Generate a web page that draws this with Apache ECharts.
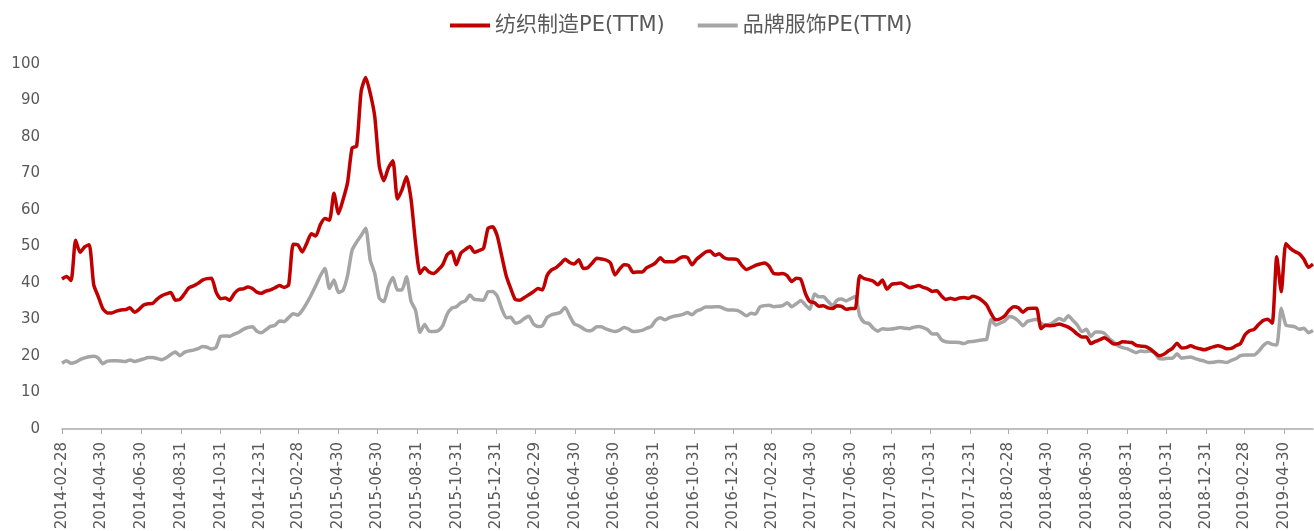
<!DOCTYPE html>
<html>
<head>
<meta charset="utf-8">
<script src="https://cdn.jsdelivr.net/npm/echarts@6/dist/echarts.min.js"></script>
<style>
    html, body { margin: 0; padding: 0; background: #fff; }
    #chart { width: 1314px; height: 531px; }
</style>
</head>
<body>
<div id="chart"></div>
<script>
// weekly readings (Fridays), first one on 2014-02-28
var startDate = "2014-02-28";
var seriesNames = ["纺织制造PE(TTM)", "品牌服饰PE(TTM)"];

var textileVals = [
    41.1, 41.8, 40.7, 51.7, 48.4, 49.9, 50.5, 39.5, 36.3, 33.0,
    31.8, 31.8, 32.3, 32.6, 32.7, 33.2, 32.0, 32.8, 34.0, 34.3,
    34.4, 35.6, 36.5, 37.0, 37.4, 35.3, 35.5, 37.0, 38.7, 39.2,
    39.9, 40.8, 41.2, 41.3, 37.5, 35.7, 35.9, 35.3, 37.1, 38.2,
    38.4, 38.9, 38.5, 37.5, 37.2, 37.8, 38.1, 38.7, 39.3, 38.8,
    39.5, 50.6, 50.5, 48.5, 50.9, 53.5, 52.9, 56.0, 57.7, 57.2,
    64.6, 59.0, 62.8, 67.5, 77.0, 77.5, 92.5, 96.3, 92.0, 85.6,
    72.0, 68.0, 71.5, 73.5, 63.0, 65.5, 69.1, 63.0, 51.0, 42.6,
    44.2, 43.0, 42.6, 43.6, 45.0, 47.8, 48.6, 45.0, 48.2, 49.2,
    50.0, 48.4, 48.9, 49.5, 55.0, 55.4, 53.0, 47.5, 42.0, 38.5,
    35.5, 35.3, 36.0, 36.8, 37.6, 38.5, 38.1, 42.0, 43.6, 44.2,
    45.3, 46.5, 45.6, 45.2, 46.4, 44.0, 44.2, 45.5, 46.8, 46.6,
    46.3, 45.5, 42.2, 43.8, 45.0, 44.8, 42.9, 43.0, 43.0, 44.2,
    44.8, 45.6, 46.9, 45.8, 45.8, 45.8, 46.6, 47.2, 47.0, 45.0,
    46.5, 47.5, 48.5, 48.8, 47.6, 48.0, 47.0, 46.6, 46.6, 46.4,
    44.8, 43.7, 44.2, 44.8, 45.2, 45.5, 44.6, 42.6, 42.5, 42.6,
    42.0, 40.4, 41.3, 41.0, 37.2, 34.9, 34.6, 33.6, 33.8, 33.2,
    33.0, 33.8, 33.6, 32.8, 33.0, 33.0, 42.0, 41.2, 40.9, 40.5,
    39.5, 40.8, 38.3, 39.6, 39.8, 40.0, 39.4, 38.7, 39.0, 39.3,
    38.8, 38.4, 37.7, 37.9, 36.5, 35.5, 35.8, 35.5, 35.9, 36.0,
    35.8, 36.4, 36.0, 35.2, 34.0, 31.6, 29.9, 30.2, 31.0, 32.6,
    33.5, 33.2, 32.0, 33.0, 33.1, 33.1, 27.5, 28.4, 28.3, 28.4,
    28.8, 28.4, 27.9, 27.1, 26.0, 25.2, 25.2, 23.4, 24.0, 24.5,
    25.0, 24.2, 23.3, 23.4, 23.9, 23.8, 23.7, 22.9, 22.7, 22.6,
    22.0, 21.0, 20.1, 20.4, 21.3, 22.1, 23.5, 22.2, 22.3, 22.8,
    22.3, 22.0, 21.7, 22.1, 22.5, 22.8, 22.5, 22.0, 22.1, 22.8,
    23.4, 25.8, 26.9, 27.3, 28.6, 29.7, 30.1, 29.0, 47.2, 37.6,
    50.8, 49.5, 48.6, 48.0, 46.5, 44.3, 45.2
];

var apparelVals = [
    18.0, 18.7, 18.0, 18.3, 19.0, 19.5, 19.8, 19.9, 19.4, 17.9,
    18.6, 18.7, 18.7, 18.6, 18.5, 18.9, 18.5, 18.8, 19.2, 19.6,
    19.6, 19.3, 19.0, 19.5, 20.4, 21.1, 20.1, 21.0, 21.4, 21.6,
    22.0, 22.6, 22.4, 21.9, 22.4, 25.4, 25.5, 25.4, 26.0, 26.5,
    27.3, 27.8, 28.0, 26.8, 26.4, 27.2, 28.1, 28.4, 29.6, 29.4,
    30.5, 31.6, 31.2, 32.5, 34.5, 36.8, 39.3, 42.0, 44.0, 38.5,
    40.8, 37.4, 38.0, 42.0, 49.0, 51.2, 53.0, 55.0, 46.3, 42.6,
    35.8, 34.9, 39.0, 41.5, 38.1, 38.1, 41.7, 35.0, 32.5, 26.5,
    28.6, 26.8, 26.7, 26.9, 28.3, 31.5, 33.1, 33.5, 34.6, 35.1,
    36.7, 35.5, 35.4, 35.3, 37.6, 37.7, 36.5, 33.0, 30.5, 30.6,
    29.0, 29.3, 30.3, 30.9, 28.8, 28.1, 28.3, 30.5, 31.3, 31.6,
    32.0, 33.3, 31.0, 28.8, 28.3, 27.5, 26.9, 27.1, 28.0, 28.0,
    27.4, 27.0, 26.7, 27.1, 27.8, 27.4, 26.7, 26.8, 27.0, 27.6,
    28.1, 29.8, 30.5, 29.9, 30.5, 30.9, 31.1, 31.4, 31.9, 31.3,
    32.3, 32.8, 33.4, 33.4, 33.5, 33.5, 33.0, 32.6, 32.6, 32.5,
    31.8, 31.0, 31.7, 31.5, 33.5, 33.8, 33.9, 33.5, 33.6, 33.8,
    34.6, 33.5, 34.3, 35.2, 34.0, 32.8, 37.0, 36.2, 36.2, 35.0,
    33.8, 35.3, 35.6, 35.1, 35.7, 36.3, 31.0, 29.2, 28.9, 27.6,
    26.8, 27.5, 27.3, 27.4, 27.6, 27.8, 27.6, 27.5, 27.9, 28.1,
    27.8, 27.2, 26.0, 26.1, 24.5, 23.9, 23.8, 23.8, 23.7, 23.4,
    23.9, 24.0, 24.2, 24.4, 24.6, 30.0, 28.5, 29.0, 29.6, 30.8,
    30.5, 29.6, 28.3, 29.5, 29.8, 30.1, 29.0, 28.5, 28.7, 29.5,
    30.3, 29.7, 31.0, 29.8, 28.5, 26.7, 27.3, 25.4, 26.6, 26.6,
    26.2, 24.8, 23.8, 22.8, 22.3, 22.0, 21.4, 20.9, 21.4, 21.2,
    21.4, 20.9, 19.3, 19.2, 19.4, 19.4, 20.6, 19.4, 19.6, 19.7,
    19.3, 18.9, 18.6, 18.2, 18.3, 18.5, 18.4, 18.2, 18.8, 19.3,
    20.1, 20.3, 20.3, 20.3, 21.3, 22.8, 23.7, 23.2, 23.0, 33.1,
    28.5, 28.2, 28.0, 27.3, 27.6, 26.4, 27.0
];

var tickDates = [
    "2014-02-28", "2014-04-30", "2014-06-30", "2014-08-31", "2014-10-31", "2014-12-31",
    "2015-02-28", "2015-04-30", "2015-06-30", "2015-08-31", "2015-10-31", "2015-12-31",
    "2016-02-29", "2016-04-30", "2016-06-30", "2016-08-31", "2016-10-31", "2016-12-31",
    "2017-02-28", "2017-04-30", "2017-06-30", "2017-08-31", "2017-10-31", "2017-12-31",
    "2018-02-28", "2018-04-30", "2018-06-30", "2018-08-31", "2018-10-31", "2018-12-31",
    "2019-02-28", "2019-04-30"
];

var yTicks = { min: 0, max: 100, interval: 10 };

// the axis is a day axis (like Excel's date axis), weekly points sit on it
var dayMs = 86400000;
var p = startDate.split("-");
var t0 = Date.UTC(+p[0], +p[1] - 1, +p[2]);
var dayCount = (textileVals.length - 1) * 7 + 1;
var days = [];
for (var i = 0; i < dayCount; i++) {
    days.push(new Date(t0 + i * dayMs).toISOString().slice(0, 10));
}
function spread(vals) {
    var out = [];
    for (var i = 0; i < dayCount; i++) {
        out.push(i % 7 === 0 ? vals[i / 7] : null);
    }
    return out;
}
var tickSet = {};
tickDates.forEach(function(d) { tickSet[d] = true; });
function showTick(index, value) {
    return !!tickSet[value];
}

var axisFont = "'DejaVu Sans', 'Liberation Sans', sans-serif";
var myChart = echarts.init(document.getElementById("chart"));
var option = {
    animation: false,
    color: ["#C00000", "#A5A5A5"],
    legend: {
        top: 10,
        left: 445,
        itemGap: 33,
        itemWidth: 40,
        itemHeight: 4,
        icon: "rect",
        textStyle: {
            fontSize: 21,
            color: "#595959",
            fontFamily: "'DejaVu Sans', 'Noto Sans CJK SC', sans-serif"
        },
        data: seriesNames
    },
    grid: {
        top: 64,
        left: 62,
        right: 1,
        bottom: 102,
        outerBoundsMode: "none"
    },
    xAxis: {
        type: "category",
        boundaryGap: false,
        data: days,
        axisLine: { lineStyle: { color: "#ABABAB", width: 1.5 } },
        axisTick: { interval: showTick, length: 5, lineStyle: { color: "#ABABAB" } },
        axisLabel: {
            interval: showTick,
            rotate: 90,
            margin: 13,
            fontSize: 15,
            color: "#595959",
            fontFamily: axisFont
        },
        splitLine: { show: false }
    },
    yAxis: {
        type: "value",
        min: yTicks.min,
        max: yTicks.max,
        interval: yTicks.interval,
        axisLine: { show: false },
        axisTick: { show: false },
        splitLine: { show: false },
        axisLabel: {
            margin: 22,
            fontSize: 15,
            color: "#595959",
            fontFamily: axisFont
        }
    },
    series: [
        {
            name: seriesNames[0],
            type: "line",
            data: spread(textileVals),
            connectNulls: true,
            symbol: "none",
            smooth: 0.2,
            lineStyle: { width: 3.5, color: "#C00000" },
            z: 3
        },
        {
            name: seriesNames[1],
            type: "line",
            data: spread(apparelVals),
            connectNulls: true,
            symbol: "none",
            smooth: 0.2,
            lineStyle: { width: 3.5, color: "#A5A5A5" },
            z: 2
        }
    ]
};
myChart.setOption(option);
</script>
</body>
</html>
